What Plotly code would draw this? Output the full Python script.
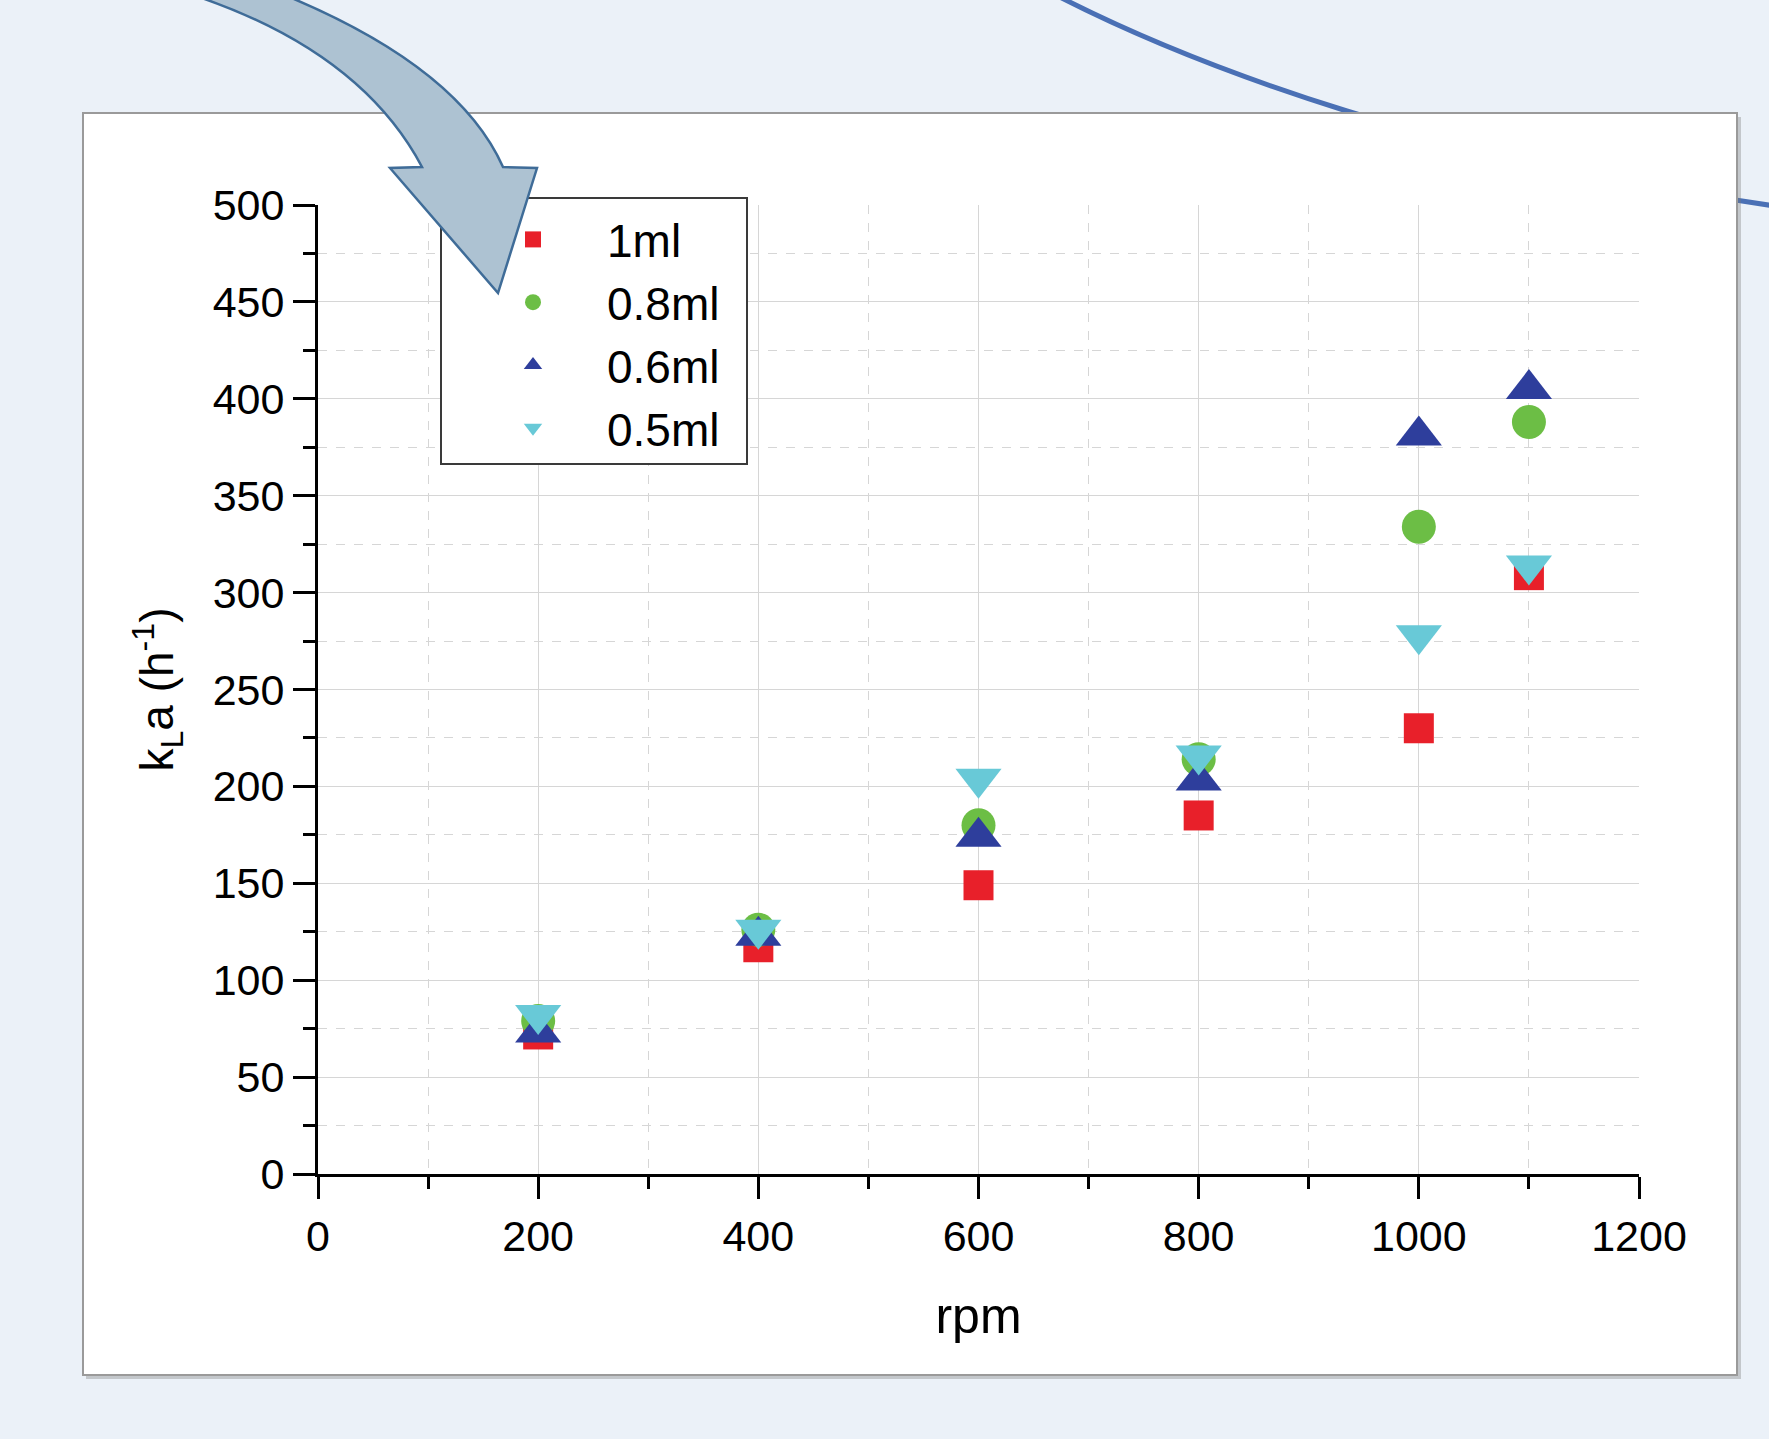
import plotly.graph_objects as go

# ---- data ----
rpm = [200, 400, 600, 800, 1000, 1100]
kla_1ml = [72, 117, 149, 185, 230, 309]
kla_08ml = [79, 126, 180, 214, 334, 388]
kla_06ml = [73, 123, 174, 203, 381, 405]
kla_05ml = [82, 126, 204, 216, 278, 314]
series_names = ["1ml", "0.8ml", "0.6ml", "0.5ml"]
x_ticks = [0, 200, 400, 600, 800, 1000, 1200]
y_ticks = [0, 50, 100, 150, 200, 250, 300, 350, 400, 450, 500]

# ---- styles ----
W, H = 1769, 1439
ML, MR, MT, MB = 318, 130, 205, 265
PW, PH = W - ML - MR, H - MT - MB
FONT = "Liberation Sans, Arial, sans-serif"

def fx(X):
    return (X - ML) / PW

def fy(Y):
    return (H - MB - Y) / PH

styles = [
    dict(symbol="square", color="#E8202A", size=30),
    dict(symbol="circle", color="#6CBE45", size=34),
    dict(symbol="triangle-up", color="#2E3E9C", size=40),
    dict(symbol="triangle-down", color="#68C9D7", size=40),
]
values = [kla_1ml, kla_08ml, kla_06ml, kla_05ml]

fig = go.Figure()
for name, vals, st in zip(series_names, values, styles):
    fig.add_trace(go.Scatter(
        x=rpm, y=vals, mode="markers", name=name,
        marker=dict(symbol=st["symbol"], color=st["color"], size=st["size"],
                    line=dict(width=0)),
    ))

# decorations (background slide elements)
arc_path = (f"M {fx(1050)},{fy(-8)} C {fx(1200)},{fy(70)} {fx(1450)},{fy(160)} "
            f"{fx(1775)},{fy(206)}")
arrow_path = (f"M {fx(190)},{fy(-6)} Q {fx(360)},{fy(50)} {fx(422)},{fy(167)} "
              f"L {fx(390)},{fy(168)} L {fx(498)},{fy(293)} L {fx(537)},{fy(168)} "
              f"L {fx(503)},{fy(167)} Q {fx(458)},{fy(66)} {fx(282)},{fy(-6)} Z")

shapes = [
    dict(type="path", xref="paper", yref="paper", path=arc_path,
         line=dict(color="#4A70B5", width=5), layer="below"),
    # card shadow
    dict(type="rect", xref="paper", yref="paper",
         x0=fx(86), x1=fx(1741), y0=fy(117), y1=fy(1379),
         line=dict(width=0), fillcolor="rgba(120,120,120,0.35)", layer="below"),
    # white card
    dict(type="rect", xref="paper", yref="paper",
         x0=fx(83), x1=fx(1737), y0=fy(113), y1=fy(1375),
         line=dict(color="#9A9A9A", width=2), fillcolor="white", layer="below"),
    # legend frame (drawn as a shape so the arrow can sit on top of it)
    dict(type="rect", xref="paper", yref="paper",
         x0=fx(441), x1=fx(747), y0=fy(198), y1=fy(464),
         line=dict(color="#3A3A3A", width=2), fillcolor="white", layer="above"),
    # block arrow
    dict(type="path", xref="paper", yref="paper", path=arrow_path,
         line=dict(color="#3F6C98", width=2.5), fillcolor="#ADC2D2", layer="above"),
]

axis_common = dict(
    showline=True, linecolor="black", linewidth=3, mirror=False,
    ticks="outside", ticklen=22, tickwidth=2.5, tickcolor="black",
    showgrid=True, gridcolor="#D6D6D6", gridwidth=1.3, zeroline=False,
    tickfont=dict(family=FONT, size=43, color="black"),
)

fig.update_layout(
    width=W, height=H, autosize=False,
    margin=dict(l=ML, r=MR, t=MT, b=MB),
    paper_bgcolor="#EBF1F8", plot_bgcolor="white",
    font=dict(family=FONT, color="black"),
    shapes=shapes,
    xaxis=dict(
        **axis_common, range=[0, 1200], tickmode="array", tickvals=x_ticks,
        ticktext=[str(v) for v in x_ticks],
        minor=dict(dtick=100, tick0=0, ticks="outside", ticklen=12, tickwidth=2.5,
                   tickcolor="black", showgrid=True, gridcolor="#D6D6D6",
                   griddash="dash", gridwidth=1.2),
        title=dict(text="rpm", font=dict(family=FONT, size=50), standoff=40),
    ),
    yaxis=dict(
        **axis_common, range=[0, 500], tickmode="array", tickvals=y_ticks,
        ticktext=[str(v) for v in y_ticks],
        minor=dict(dtick=25, tick0=0, ticks="outside", ticklen=12, tickwidth=2.5,
                   tickcolor="black", showgrid=True, gridcolor="#D6D6D6",
                   griddash="dash", gridwidth=1.2),
        title=dict(text="k<sub>L</sub>a (h<sup>-1</sup>)", font=dict(family=FONT, size=46),
                   standoff=25),
    ),
    legend=dict(
        x=fx(459), y=fy(203), xanchor="left", yanchor="top",
        bgcolor="rgba(0,0,0,0)", borderwidth=0,
        font=dict(family=FONT, size=46, color="black"),
        itemsizing="trace", itemwidth=138,
    ),
    showlegend=True,
)

fig.write_html("out.html")
